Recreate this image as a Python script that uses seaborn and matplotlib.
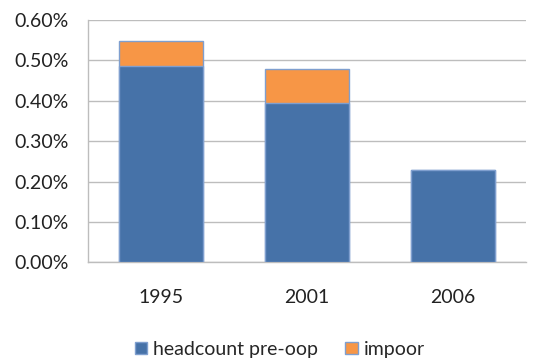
import numpy as np
import pandas as pd
import matplotlib.pyplot as plt
import seaborn as sns
from matplotlib.ticker import FuncFormatter
from matplotlib.patches import Patch

years = ["1995", "2001", "2006"]
headcount = [0.487, 0.394, 0.229]
impoor = [0.062, 0.084, 0.0]

BLUE = "#4672a8"
ORANGE = "#f79646"
EDGE = "#7f9fcf"

sns.set_theme(style="white")
plt.rcParams['font.family'] = ['Lato', 'DejaVu Sans']

df = pd.DataFrame({"year": years, "headcount": headcount, "impoor": impoor})
df["total"] = df["headcount"] + df["impoor"]

fig, ax = plt.subplots(figsize=(5.34, 3.62), dpi=100)
fig.subplots_adjust(left=0.165, right=0.985, top=0.945, bottom=0.275)

sns.barplot(data=df, x="year", y="total", color=ORANGE, width=0.575,
            edgecolor=EDGE, linewidth=1.0, saturation=1, ax=ax, zorder=3)
sns.barplot(data=df, x="year", y="headcount", color=BLUE, width=0.575,
            edgecolor=EDGE, linewidth=1.0, saturation=1, ax=ax, zorder=4)

ax.set_ylim(0, 0.6)
ax.set_yticks(np.arange(0, 0.61, 0.1))
ax.yaxis.set_major_formatter(FuncFormatter(lambda v, _: f"{v:.2f}%"))
ax.grid(axis="y", color="#bdbdbd", linewidth=1.0, zorder=0)
ax.set_axisbelow(True)
for s in ax.spines.values():
    s.set_color("#bdbdbd")
    s.set_linewidth(1.0)
ax.spines["top"].set_visible(False)
ax.spines["right"].set_visible(False)
ax.set_xlabel("")
ax.set_ylabel("")
ax.tick_params(axis="both", labelsize=14, colors="#222222", length=0)
ax.tick_params(axis="x", pad=19)
ax.tick_params(axis="y", pad=14)

handles = [Patch(facecolor=BLUE, edgecolor=EDGE, label="headcount pre-oop"),
           Patch(facecolor=ORANGE, edgecolor=EDGE, label="impoor")]
fig.legend(handles=handles, loc="center", bbox_to_anchor=(0.524, 0.035),
           ncol=2, frameon=False, fontsize=14, handlelength=0.65,
           handleheight=0.65, handletextpad=0.3, columnspacing=1.4,
           borderpad=0)

fig.savefig("out.png", dpi=100)
